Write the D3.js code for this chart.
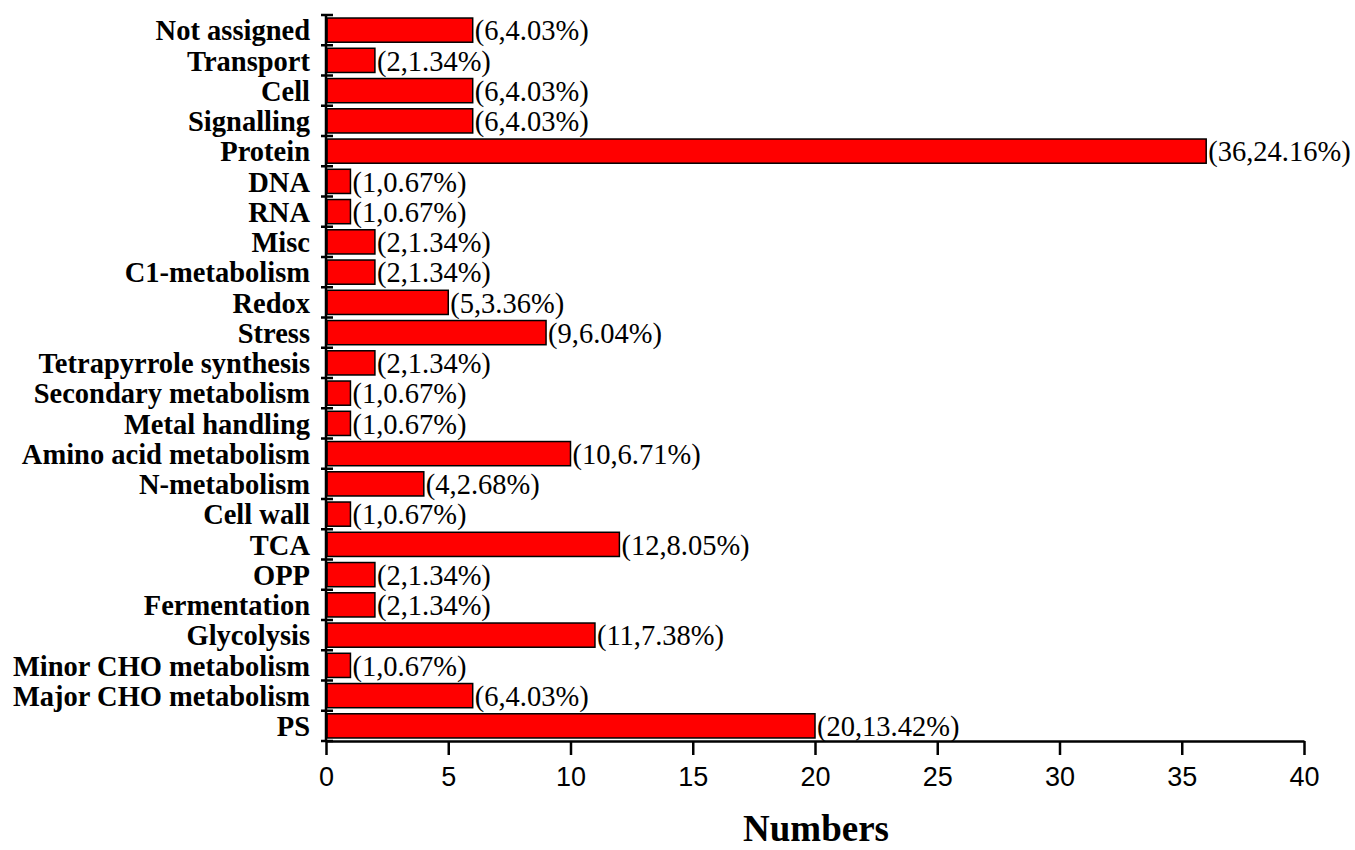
<!DOCTYPE html>
<html><head><meta charset="utf-8">
<script src="https://cdn.jsdelivr.net/npm/d3@7"></script>
<style>body{margin:0;background:#fff}</style>
</head><body>
<svg id="c" width="1355" height="850"></svg>
<script>
const categories = ["PS","Major CHO metabolism","Minor CHO metabolism","Glycolysis","Fermentation","OPP","TCA","Cell wall","N-metabolism","Amino acid metabolism","Metal handling","Secondary metabolism","Tetrapyrrole synthesis","Stress","Redox","C1-metabolism","Misc","RNA","DNA","Protein","Signalling","Cell","Transport","Not assigned"];
const counts = [20,6,1,11,2,2,12,1,4,10,1,1,2,9,5,2,2,1,1,36,6,6,2,6];
const percents = ["13.42%","4.03%","0.67%","7.38%","1.34%","1.34%","8.05%","0.67%","2.68%","6.71%","0.67%","0.67%","1.34%","6.04%","3.36%","1.34%","1.34%","0.67%","0.67%","24.16%","4.03%","4.03%","1.34%","4.03%"];
const xTicks = [0,5,10,15,20,25,30,35,40];

const svg = d3.select("#c");
const pLeft = 326, pRight = 1304, pTop = 15, pBottom = 741;
const x = d3.scaleLinear().domain([0,40]).range([pLeft,pRight]);
const y = d3.scaleBand().domain(categories.slice().reverse()).range([pTop,pBottom]).paddingInner(0.2).paddingOuter(0.1);

// bars
svg.selectAll("rect.bar").data(categories).enter().append("rect")
  .attr("x", x(0)+1).attr("y", d=>y(d))
  .attr("width", (d,i)=>x(counts[i])-x(0)-1).attr("height", y.bandwidth())
  .attr("fill","#ff0000").attr("stroke","#000").attr("stroke-width",1.5);

// value labels
svg.selectAll("text.val").data(categories).enter().append("text")
  .attr("x",(d,i)=>x(counts[i])+2).attr("y",d=>y(d)+y.bandwidth()/2)
  .attr("dy","0.36em")
  .attr("font-family","Liberation Serif").attr("font-size",28.5)
  .text((d,i)=>`(${counts[i]},${percents[i]})`);

// y axis line and boundary ticks
svg.append("line").attr("x1",pLeft).attr("x2",pLeft).attr("y1",pTop).attr("y2",pBottom).attr("stroke","#000").attr("stroke-width",2.5);
const bounds = d3.range(categories.length+1).map(i=>pTop + i*(pBottom-pTop)/categories.length);
svg.selectAll("line.yt").data(bounds).enter().append("line")
  .attr("x1",pLeft-5).attr("x2",pLeft+7).attr("y1",d=>d).attr("y2",d=>d)
  .attr("stroke","#000").attr("stroke-width",2.5);

// y category labels
svg.selectAll("text.cat").data(categories).enter().append("text")
  .attr("x",pLeft-16).attr("y",d=>y(d)+y.bandwidth()/2).attr("dy","0.36em")
  .attr("text-anchor","end")
  .attr("font-family","Liberation Serif").attr("font-weight","bold").attr("font-size",28.5)
  .text(d=>d);

// x axis
const xAxis = d3.axisBottom(x).tickValues(xTicks).tickSize(14).tickSizeOuter(0).tickPadding(12);
const gx = svg.append("g").attr("transform",`translate(0,${pBottom})`).call(xAxis);
gx.select(".domain").attr("stroke-width",2.5);
gx.selectAll(".tick line").attr("stroke-width",2.5);
gx.selectAll(".tick text").attr("font-family","Liberation Sans").attr("font-size",27).attr("fill","#000");

svg.append("text").attr("x",816).attr("y",841)
  .attr("text-anchor","middle")
  .attr("font-family","Liberation Serif").attr("font-weight","bold").attr("font-size",37)
  .text("Numbers");
</script>
</body></html>
